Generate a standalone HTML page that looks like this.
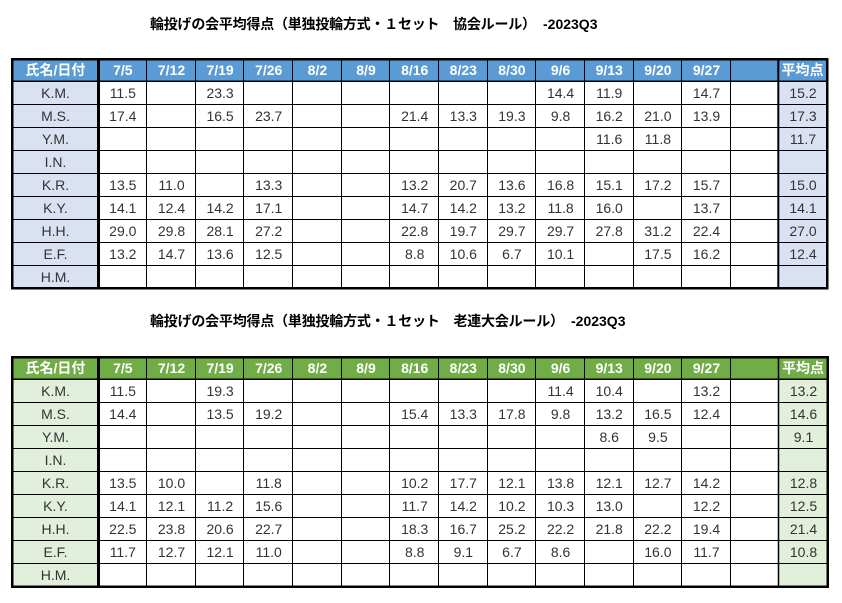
<!DOCTYPE html>
<html><head><meta charset="utf-8">
<style>
html,body{margin:0;padding:0;background:#fff;}
svg{display:block;}
.t{font-family:"Liberation Sans","Noto Sans CJK JP",sans-serif;font-weight:bold;font-size:14px;fill:#000;}
.h{font-family:"Liberation Sans","Noto Sans CJK JP",sans-serif;font-weight:bold;font-size:14px;fill:#fff;text-anchor:middle;}
.d{font-family:"Liberation Sans","Noto Sans CJK JP",sans-serif;font-size:14px;fill:#333;text-anchor:middle;}
</style></head><body>
<svg width="842" height="603" viewBox="0 0 842 603" xmlns="http://www.w3.org/2000/svg">
<rect width="842" height="603" fill="#fff"/>

<!-- Title 1 -->
<text class="t" x="150" y="29" textLength="386" lengthAdjust="spacing">輪投げの会平均得点（単独投輪方式・１セット　協会ルール）</text>
<text class="t" x="543" y="29">-2023Q3</text>

<!-- Table 1 fills -->
<rect x="12" y="59" width="816" height="22" fill="#5B9BD5"/>
<rect x="12" y="81" width="86" height="207" fill="#D9E1F2"/>
<rect x="779" y="81" width="48" height="207" fill="#D9E1F2"/>

<g stroke="#000" stroke-width="1">
<line x1="12" x2="827" y1="104.5" y2="104.5"/>
<line x1="12" x2="827" y1="127.5" y2="127.5"/>
<line x1="12" x2="827" y1="150.5" y2="150.5"/>
<line x1="12" x2="827" y1="173.5" y2="173.5"/>
<line x1="12" x2="827" y1="196.5" y2="196.5"/>
<line x1="12" x2="827" y1="219.5" y2="219.5"/>
<line x1="12" x2="827" y1="242.5" y2="242.5"/>
<line x1="12" x2="827" y1="265.5" y2="265.5"/>
<line x1="146.5" x2="146.5" y1="59" y2="288"/>
<line x1="195.5" x2="195.5" y1="59" y2="288"/>
<line x1="243.5" x2="243.5" y1="59" y2="288"/>
<line x1="292.5" x2="292.5" y1="59" y2="288"/>
<line x1="341.5" x2="341.5" y1="59" y2="288"/>
<line x1="389.5" x2="389.5" y1="59" y2="288"/>
<line x1="438.5" x2="438.5" y1="59" y2="288"/>
<line x1="487.5" x2="487.5" y1="59" y2="288"/>
<line x1="535.5" x2="535.5" y1="59" y2="288"/>
<line x1="584.5" x2="584.5" y1="59" y2="288"/>
<line x1="633.5" x2="633.5" y1="59" y2="288"/>
<line x1="681.5" x2="681.5" y1="59" y2="288"/>
<line x1="730.5" x2="730.5" y1="59" y2="288"/>
</g>
<line x1="12" x2="827" y1="81.25" y2="81.25" stroke="#000" stroke-width="1.5"/>
<line x1="778.3" x2="778.3" y1="59" y2="288" stroke="#000" stroke-width="2"/>
<line x1="98.5" x2="98.5" y1="59" y2="289" stroke="#000" stroke-width="3"/>
<rect x="12.25" y="59.25" width="815" height="229" fill="none" stroke="#000" stroke-width="2.5"/>

<!-- Table 1 header -->
<text class="h" x="55.5" y="75">氏名/日付</text>
<text class="h" x="122.8" y="75">7/5</text>
<text class="h" x="171.5" y="75">7/12</text>
<text class="h" x="220.1" y="75">7/19</text>
<text class="h" x="268.7" y="75">7/26</text>
<text class="h" x="317.4" y="75">8/2</text>
<text class="h" x="366.0" y="75">8/9</text>
<text class="h" x="414.7" y="75">8/16</text>
<text class="h" x="463.3" y="75">8/23</text>
<text class="h" x="511.9" y="75">8/30</text>
<text class="h" x="560.6" y="75">9/6</text>
<text class="h" x="609.2" y="75">9/13</text>
<text class="h" x="657.9" y="75">9/20</text>
<text class="h" x="706.5" y="75">9/27</text>
<text class="h" x="802.5" y="75">平均点</text>

<!-- Table 1 names -->
<text class="d" x="55.5" y="98">K.M.</text>
<text class="d" x="55.5" y="121">M.S.</text>
<text class="d" x="55.5" y="144">Y.M.</text>
<text class="d" x="55.5" y="167">I.N.</text>
<text class="d" x="55.5" y="190">K.R.</text>
<text class="d" x="55.5" y="213">K.Y.</text>
<text class="d" x="55.5" y="236">H.H.</text>
<text class="d" x="55.5" y="259">E.F.</text>
<text class="d" x="55.5" y="282">H.M.</text>

<!-- Table 1 data -->
<text class="d" x="122.8" y="98">11.5</text>
<text class="d" x="220.1" y="98">23.3</text>
<text class="d" x="560.6" y="98">14.4</text>
<text class="d" x="609.2" y="98">11.9</text>
<text class="d" x="706.5" y="98">14.7</text>
<text class="d" x="803" y="98">15.2</text>

<text class="d" x="122.8" y="121">17.4</text>
<text class="d" x="220.1" y="121">16.5</text>
<text class="d" x="268.7" y="121">23.7</text>
<text class="d" x="414.7" y="121">21.4</text>
<text class="d" x="463.3" y="121">13.3</text>
<text class="d" x="511.9" y="121">19.3</text>
<text class="d" x="560.6" y="121">9.8</text>
<text class="d" x="609.2" y="121">16.2</text>
<text class="d" x="657.9" y="121">21.0</text>
<text class="d" x="706.5" y="121">13.9</text>
<text class="d" x="803" y="121">17.3</text>

<text class="d" x="609.2" y="144">11.6</text>
<text class="d" x="657.9" y="144">11.8</text>
<text class="d" x="803" y="144">11.7</text>

<text class="d" x="122.8" y="190">13.5</text>
<text class="d" x="171.5" y="190">11.0</text>
<text class="d" x="268.7" y="190">13.3</text>
<text class="d" x="414.7" y="190">13.2</text>
<text class="d" x="463.3" y="190">20.7</text>
<text class="d" x="511.9" y="190">13.6</text>
<text class="d" x="560.6" y="190">16.8</text>
<text class="d" x="609.2" y="190">15.1</text>
<text class="d" x="657.9" y="190">17.2</text>
<text class="d" x="706.5" y="190">15.7</text>
<text class="d" x="803" y="190">15.0</text>

<text class="d" x="122.8" y="213">14.1</text>
<text class="d" x="171.5" y="213">12.4</text>
<text class="d" x="220.1" y="213">14.2</text>
<text class="d" x="268.7" y="213">17.1</text>
<text class="d" x="414.7" y="213">14.7</text>
<text class="d" x="463.3" y="213">14.2</text>
<text class="d" x="511.9" y="213">13.2</text>
<text class="d" x="560.6" y="213">11.8</text>
<text class="d" x="609.2" y="213">16.0</text>
<text class="d" x="706.5" y="213">13.7</text>
<text class="d" x="803" y="213">14.1</text>

<text class="d" x="122.8" y="236">29.0</text>
<text class="d" x="171.5" y="236">29.8</text>
<text class="d" x="220.1" y="236">28.1</text>
<text class="d" x="268.7" y="236">27.2</text>
<text class="d" x="414.7" y="236">22.8</text>
<text class="d" x="463.3" y="236">19.7</text>
<text class="d" x="511.9" y="236">29.7</text>
<text class="d" x="560.6" y="236">29.7</text>
<text class="d" x="609.2" y="236">27.8</text>
<text class="d" x="657.9" y="236">31.2</text>
<text class="d" x="706.5" y="236">22.4</text>
<text class="d" x="803" y="236">27.0</text>

<text class="d" x="122.8" y="259">13.2</text>
<text class="d" x="171.5" y="259">14.7</text>
<text class="d" x="220.1" y="259">13.6</text>
<text class="d" x="268.7" y="259">12.5</text>
<text class="d" x="414.7" y="259">8.8</text>
<text class="d" x="463.3" y="259">10.6</text>
<text class="d" x="511.9" y="259">6.7</text>
<text class="d" x="560.6" y="259">10.1</text>
<text class="d" x="657.9" y="259">17.5</text>
<text class="d" x="706.5" y="259">16.2</text>
<text class="d" x="803" y="259">12.4</text>

<!-- Title 2 -->
<text class="t" x="150" y="326" textLength="414" lengthAdjust="spacing">輪投げの会平均得点（単独投輪方式・１セット　老連大会ルール）</text>
<text class="t" x="571" y="326">-2023Q3</text>

<!-- Table 2 fills -->
<rect x="12" y="357" width="817" height="22" fill="#70AD47"/>
<rect x="12" y="379" width="86" height="207" fill="#E2EFDA"/>
<rect x="779" y="379" width="49" height="207" fill="#E2EFDA"/>

<g stroke="#000" stroke-width="1">
<line x1="12" x2="828" y1="402.5" y2="402.5"/>
<line x1="12" x2="828" y1="425.5" y2="425.5"/>
<line x1="12" x2="828" y1="448.5" y2="448.5"/>
<line x1="12" x2="828" y1="471.5" y2="471.5"/>
<line x1="12" x2="828" y1="494.5" y2="494.5"/>
<line x1="12" x2="828" y1="517.5" y2="517.5"/>
<line x1="12" x2="828" y1="540.5" y2="540.5"/>
<line x1="12" x2="828" y1="563.5" y2="563.5"/>
<line x1="146.5" x2="146.5" y1="357" y2="586"/>
<line x1="195.5" x2="195.5" y1="357" y2="586"/>
<line x1="243.5" x2="243.5" y1="357" y2="586"/>
<line x1="292.5" x2="292.5" y1="357" y2="586"/>
<line x1="341.5" x2="341.5" y1="357" y2="586"/>
<line x1="389.5" x2="389.5" y1="357" y2="586"/>
<line x1="438.5" x2="438.5" y1="357" y2="586"/>
<line x1="487.5" x2="487.5" y1="357" y2="586"/>
<line x1="535.5" x2="535.5" y1="357" y2="586"/>
<line x1="584.5" x2="584.5" y1="357" y2="586"/>
<line x1="633.5" x2="633.5" y1="357" y2="586"/>
<line x1="681.5" x2="681.5" y1="357" y2="586"/>
<line x1="730.5" x2="730.5" y1="357" y2="586"/>
</g>
<line x1="12" x2="828" y1="379.25" y2="379.25" stroke="#000" stroke-width="1.5"/>
<line x1="778.5" x2="778.5" y1="357" y2="586" stroke="#000" stroke-width="1.5"/>
<line x1="98.5" x2="98.5" y1="357" y2="587" stroke="#000" stroke-width="3"/>
<rect x="12.25" y="357.25" width="815.5" height="229.5" fill="none" stroke="#000" stroke-width="2.5"/>

<!-- Table 2 header -->
<text class="h" x="55.5" y="373">氏名/日付</text>
<text class="h" x="122.8" y="373">7/5</text>
<text class="h" x="171.5" y="373">7/12</text>
<text class="h" x="220.1" y="373">7/19</text>
<text class="h" x="268.7" y="373">7/26</text>
<text class="h" x="317.4" y="373">8/2</text>
<text class="h" x="366.0" y="373">8/9</text>
<text class="h" x="414.7" y="373">8/16</text>
<text class="h" x="463.3" y="373">8/23</text>
<text class="h" x="511.9" y="373">8/30</text>
<text class="h" x="560.6" y="373">9/6</text>
<text class="h" x="609.2" y="373">9/13</text>
<text class="h" x="657.9" y="373">9/20</text>
<text class="h" x="706.5" y="373">9/27</text>
<text class="h" x="803" y="373">平均点</text>

<!-- Table 2 names -->
<text class="d" x="55.5" y="396">K.M.</text>
<text class="d" x="55.5" y="419">M.S.</text>
<text class="d" x="55.5" y="442">Y.M.</text>
<text class="d" x="55.5" y="465">I.N.</text>
<text class="d" x="55.5" y="488">K.R.</text>
<text class="d" x="55.5" y="511">K.Y.</text>
<text class="d" x="55.5" y="534">H.H.</text>
<text class="d" x="55.5" y="557">E.F.</text>
<text class="d" x="55.5" y="580">H.M.</text>

<!-- Table 2 data -->
<text class="d" x="122.8" y="396">11.5</text>
<text class="d" x="220.1" y="396">19.3</text>
<text class="d" x="560.6" y="396">11.4</text>
<text class="d" x="609.2" y="396">10.4</text>
<text class="d" x="706.5" y="396">13.2</text>
<text class="d" x="803.5" y="396">13.2</text>

<text class="d" x="122.8" y="419">14.4</text>
<text class="d" x="220.1" y="419">13.5</text>
<text class="d" x="268.7" y="419">19.2</text>
<text class="d" x="414.7" y="419">15.4</text>
<text class="d" x="463.3" y="419">13.3</text>
<text class="d" x="511.9" y="419">17.8</text>
<text class="d" x="560.6" y="419">9.8</text>
<text class="d" x="609.2" y="419">13.2</text>
<text class="d" x="657.9" y="419">16.5</text>
<text class="d" x="706.5" y="419">12.4</text>
<text class="d" x="803.5" y="419">14.6</text>

<text class="d" x="609.2" y="442">8.6</text>
<text class="d" x="657.9" y="442">9.5</text>
<text class="d" x="803.5" y="442">9.1</text>

<text class="d" x="122.8" y="488">13.5</text>
<text class="d" x="171.5" y="488">10.0</text>
<text class="d" x="268.7" y="488">11.8</text>
<text class="d" x="414.7" y="488">10.2</text>
<text class="d" x="463.3" y="488">17.7</text>
<text class="d" x="511.9" y="488">12.1</text>
<text class="d" x="560.6" y="488">13.8</text>
<text class="d" x="609.2" y="488">12.1</text>
<text class="d" x="657.9" y="488">12.7</text>
<text class="d" x="706.5" y="488">14.2</text>
<text class="d" x="803.5" y="488">12.8</text>

<text class="d" x="122.8" y="511">14.1</text>
<text class="d" x="171.5" y="511">12.1</text>
<text class="d" x="220.1" y="511">11.2</text>
<text class="d" x="268.7" y="511">15.6</text>
<text class="d" x="414.7" y="511">11.7</text>
<text class="d" x="463.3" y="511">14.2</text>
<text class="d" x="511.9" y="511">10.2</text>
<text class="d" x="560.6" y="511">10.3</text>
<text class="d" x="609.2" y="511">13.0</text>
<text class="d" x="706.5" y="511">12.2</text>
<text class="d" x="803.5" y="511">12.5</text>

<text class="d" x="122.8" y="534">22.5</text>
<text class="d" x="171.5" y="534">23.8</text>
<text class="d" x="220.1" y="534">20.6</text>
<text class="d" x="268.7" y="534">22.7</text>
<text class="d" x="414.7" y="534">18.3</text>
<text class="d" x="463.3" y="534">16.7</text>
<text class="d" x="511.9" y="534">25.2</text>
<text class="d" x="560.6" y="534">22.2</text>
<text class="d" x="609.2" y="534">21.8</text>
<text class="d" x="657.9" y="534">22.2</text>
<text class="d" x="706.5" y="534">19.4</text>
<text class="d" x="803.5" y="534">21.4</text>

<text class="d" x="122.8" y="557">11.7</text>
<text class="d" x="171.5" y="557">12.7</text>
<text class="d" x="220.1" y="557">12.1</text>
<text class="d" x="268.7" y="557">11.0</text>
<text class="d" x="414.7" y="557">8.8</text>
<text class="d" x="463.3" y="557">9.1</text>
<text class="d" x="511.9" y="557">6.7</text>
<text class="d" x="560.6" y="557">8.6</text>
<text class="d" x="657.9" y="557">16.0</text>
<text class="d" x="706.5" y="557">11.7</text>
<text class="d" x="803.5" y="557">10.8</text>
</svg>
</body></html>
